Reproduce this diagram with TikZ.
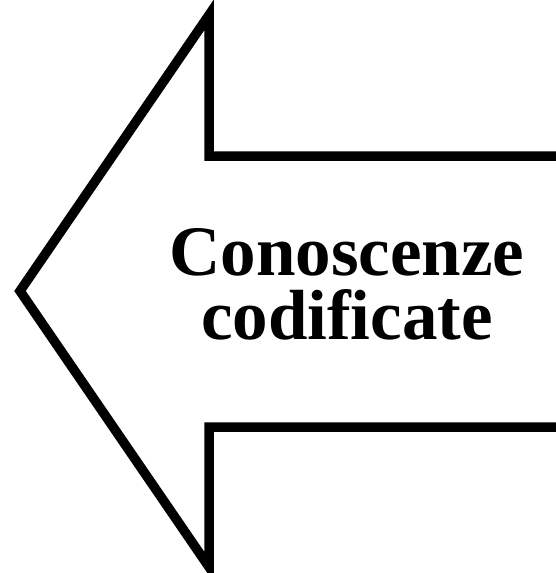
\documentclass[tikz,border=0pt]{standalone}
\usepackage{fontspec}
\setmainfont{Liberation Serif}
\begin{document}
\begin{tikzpicture}[x=1pt,y=-1pt,
  arrowshape/.style={draw=black,line width=9.5pt,fill=white,line join=miter,miter limit=10},
  lbl/.style={font=\fontsize{71}{63}\selectfont\bfseries,align=center,inner sep=0pt}]
\useasboundingbox (0,0) rectangle (556,573);
\begin{scope}
\clip (0,0) rectangle (556,573);
\draw[arrowshape] (20,291) -- (209,15) -- (209,156) -- (580,156) -- (580,427) -- (209,427) -- (209,567) -- cycle;
\end{scope}
\node[lbl,anchor=base] (t1) at (347,275) {Conoscenze};
\node[lbl,anchor=base] (t2) at (347,339) {codificate};
\end{tikzpicture}
\end{document}
